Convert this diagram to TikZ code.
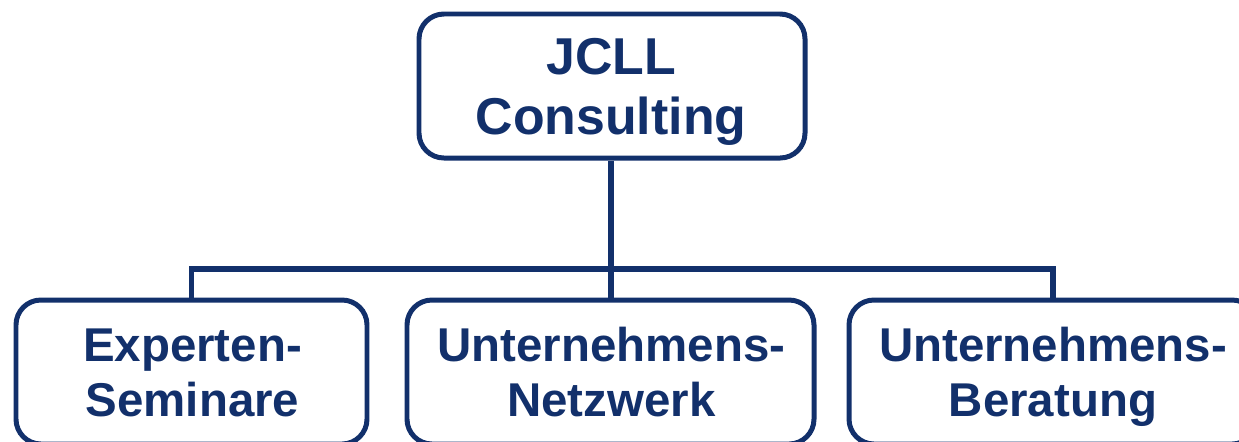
\documentclass[tikz,border=0pt]{standalone}
\usepackage{fontspec}
\setmainfont{Liberation Sans}
\definecolor{navy}{RGB}{18,48,107}
\begin{document}
\begin{tikzpicture}[x=0.02cm,y=-0.02cm,
  box/.style={draw=navy,line width=5*0.5669pt,rounded corners=25*0.5669pt,
    rectangle,minimum height=144*0.02cm,inner sep=0pt},
  toptext/.style={text=navy,anchor=base,align=center,inner sep=0pt,
    font=\fontsize{29.5}{33.7}\selectfont\bfseries},
  subtext/.style={text=navy,anchor=base,align=center,inner sep=0pt,
    font=\fontsize{27}{31.2}\selectfont\bfseries},
  link/.style={draw=navy,line width=5.5*0.5669pt,line join=miter}]
\useasboundingbox (0,0) rectangle (1239,441);
\clip (0,0) rectangle (1239,441);
\node[box,minimum width=386*0.02cm] (top) at (612,86) {};
\node[box,minimum width=351*0.02cm] (left) at (191.5,372) {};
\node[box,minimum width=407*0.02cm] (mid) at (610.5,372) {};
\node[box,minimum width=408*0.02cm] (right) at (1053,372) {};
\node[toptext] (topT) at (611,134) {JCLL\\Consulting};
\node[subtext] (leftT) at (192.5,416) {Experten-\\Seminare};
\node[subtext] (midT) at (611.5,416) {Unternehmens-\\Netzwerk};
\node[subtext] (rightT) at (1053,416) {Unternehmens-\\Beratung};
\coordinate (hy) at (611,269);
\draw[link] (top.south -| hy) -- (mid.north -| hy);
\draw[link] (left.north) |- (hy) -| (right.north);
\end{tikzpicture}
\end{document}
